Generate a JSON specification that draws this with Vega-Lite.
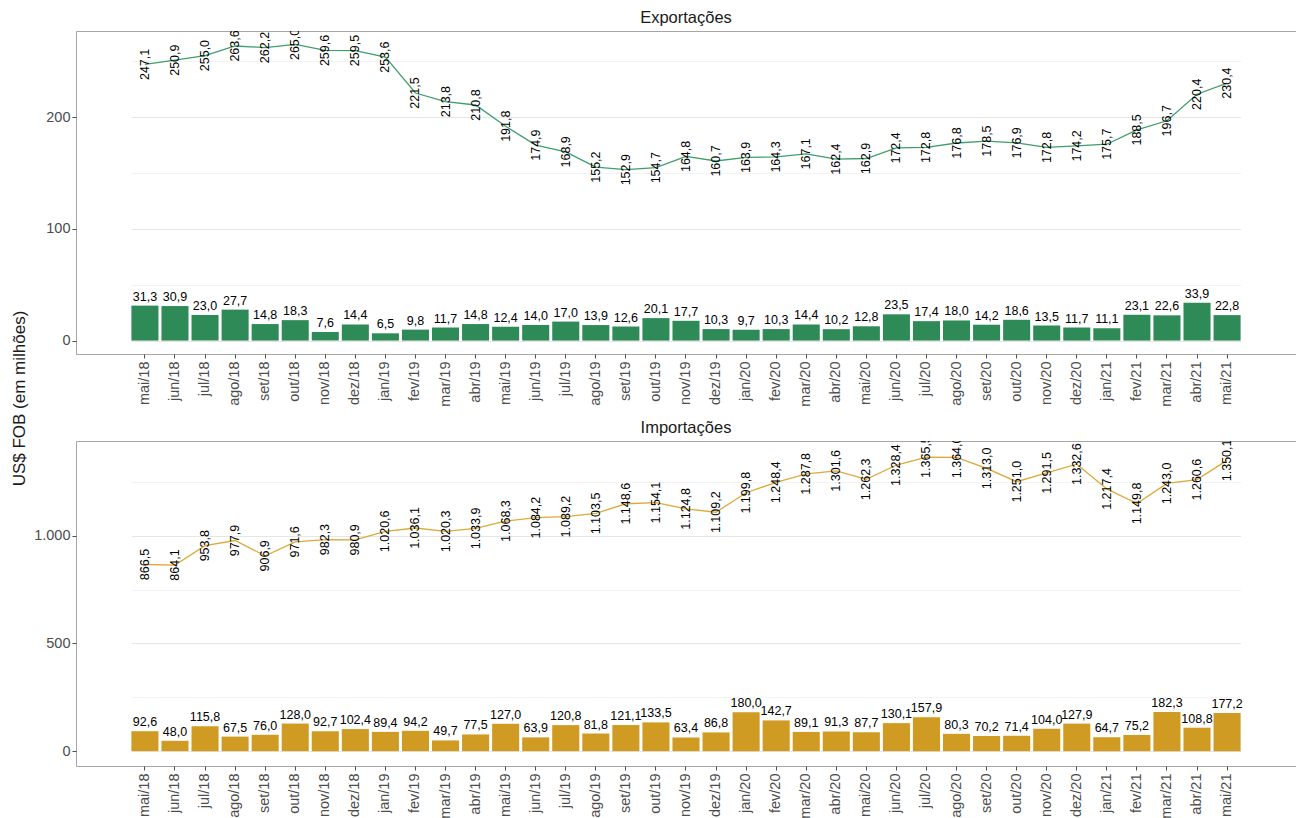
{
  "$schema": "https://vega.github.io/schema/vega-lite/v6.json",
  "padding": {"left": 9, "top": 9, "right": 0, "bottom": 0},
  "spacing": 87,
  "bounds": "flush",
  "config": {
    "locale": {"number": {"decimal": ",", "thousands": ".", "grouping": [3], "currency": ["R$", ""]}},
    "font": "Liberation Sans",
    "view": {"stroke": "#a6a6a6", "strokeWidth": 1},
    "axis": {"labelFont": "Liberation Sans", "labelColor": "#4d4d4d", "labelFontSize": 14.5, "tickColor": "#4d4d4d", "tickSize": 4, "domain": false, "titleFont": "Liberation Sans", "titleFontWeight": "normal", "titleColor": "#1a1a1a", "titleFontSize": 17},
    "title": {"fontSize": 16.5, "fontWeight": "normal", "color": "#1a1a1a", "font": "Liberation Sans", "offset": 5}
  },
  "data": {"values": [
    {"f":"E","m":"mai/18","v":31.3,"a":247.1},{"f":"E","m":"jun/18","v":30.9,"a":250.9},{"f":"E","m":"jul/18","v":23.0,"a":255.0},{"f":"E","m":"ago/18","v":27.7,"a":263.6},{"f":"E","m":"set/18","v":14.8,"a":262.2},{"f":"E","m":"out/18","v":18.3,"a":265.0},{"f":"E","m":"nov/18","v":7.6,"a":259.6},{"f":"E","m":"dez/18","v":14.4,"a":259.5},
    {"f":"E","m":"jan/19","v":6.5,"a":253.6},{"f":"E","m":"fev/19","v":9.8,"a":221.5},{"f":"E","m":"mar/19","v":11.7,"a":213.8},{"f":"E","m":"abr/19","v":14.8,"a":210.8},{"f":"E","m":"mai/19","v":12.4,"a":191.8},{"f":"E","m":"jun/19","v":14.0,"a":174.9},{"f":"E","m":"jul/19","v":17.0,"a":168.9},{"f":"E","m":"ago/19","v":13.9,"a":155.2},{"f":"E","m":"set/19","v":12.6,"a":152.9},{"f":"E","m":"out/19","v":20.1,"a":154.7},{"f":"E","m":"nov/19","v":17.7,"a":164.8},{"f":"E","m":"dez/19","v":10.3,"a":160.7},
    {"f":"E","m":"jan/20","v":9.7,"a":163.9},{"f":"E","m":"fev/20","v":10.3,"a":164.3},{"f":"E","m":"mar/20","v":14.4,"a":167.1},{"f":"E","m":"abr/20","v":10.2,"a":162.4},{"f":"E","m":"mai/20","v":12.8,"a":162.9},{"f":"E","m":"jun/20","v":23.5,"a":172.4},{"f":"E","m":"jul/20","v":17.4,"a":172.8},{"f":"E","m":"ago/20","v":18.0,"a":176.8},{"f":"E","m":"set/20","v":14.2,"a":178.5},{"f":"E","m":"out/20","v":18.6,"a":176.9},{"f":"E","m":"nov/20","v":13.5,"a":172.8},{"f":"E","m":"dez/20","v":11.7,"a":174.2},
    {"f":"E","m":"jan/21","v":11.1,"a":175.7},{"f":"E","m":"fev/21","v":23.1,"a":188.5},{"f":"E","m":"mar/21","v":22.6,"a":196.7},{"f":"E","m":"abr/21","v":33.9,"a":220.4},{"f":"E","m":"mai/21","v":22.8,"a":230.4},
    {"f":"I","m":"mai/18","v":92.6,"a":866.5},{"f":"I","m":"jun/18","v":48.0,"a":864.1},{"f":"I","m":"jul/18","v":115.8,"a":953.8},{"f":"I","m":"ago/18","v":67.5,"a":977.9},{"f":"I","m":"set/18","v":76.0,"a":906.9},{"f":"I","m":"out/18","v":128.0,"a":971.6},{"f":"I","m":"nov/18","v":92.7,"a":982.3},{"f":"I","m":"dez/18","v":102.4,"a":980.9},
    {"f":"I","m":"jan/19","v":89.4,"a":1020.6},{"f":"I","m":"fev/19","v":94.2,"a":1036.1},{"f":"I","m":"mar/19","v":49.7,"a":1020.3},{"f":"I","m":"abr/19","v":77.5,"a":1033.9},{"f":"I","m":"mai/19","v":127.0,"a":1068.3},{"f":"I","m":"jun/19","v":63.9,"a":1084.2},{"f":"I","m":"jul/19","v":120.8,"a":1089.2},{"f":"I","m":"ago/19","v":81.8,"a":1103.5},{"f":"I","m":"set/19","v":121.1,"a":1148.6},{"f":"I","m":"out/19","v":133.5,"a":1154.1},{"f":"I","m":"nov/19","v":63.4,"a":1124.8},{"f":"I","m":"dez/19","v":86.8,"a":1109.2},
    {"f":"I","m":"jan/20","v":180.0,"a":1199.8},{"f":"I","m":"fev/20","v":142.7,"a":1248.4},{"f":"I","m":"mar/20","v":89.1,"a":1287.8},{"f":"I","m":"abr/20","v":91.3,"a":1301.6},{"f":"I","m":"mai/20","v":87.7,"a":1262.3},{"f":"I","m":"jun/20","v":130.1,"a":1328.4},{"f":"I","m":"jul/20","v":157.9,"a":1365.5},{"f":"I","m":"ago/20","v":80.3,"a":1364.0},{"f":"I","m":"set/20","v":70.2,"a":1313.0},{"f":"I","m":"out/20","v":71.4,"a":1251.0},{"f":"I","m":"nov/20","v":104.0,"a":1291.5},{"f":"I","m":"dez/20","v":127.9,"a":1332.6},
    {"f":"I","m":"jan/21","v":64.7,"a":1217.4},{"f":"I","m":"fev/21","v":75.2,"a":1149.8},{"f":"I","m":"mar/21","v":182.3,"a":1243.0},{"f":"I","m":"abr/21","v":108.8,"a":1260.6},{"f":"I","m":"mai/21","v":177.2,"a":1350.1}
  ]},
  "vconcat": [
    {
      "title": "Exportações",
      "width": 1220,
      "height": 323,
      "transform": [{"filter": "datum.f === 'E'"}],
      "encoding": {
        "x": {"field": "m", "type": "ordinal", "sort": null, "title": null,
              "scale": {"range": [55.4, 1164.6], "paddingInner": 0.1, "paddingOuter": 0},
              "axis": {"labelAngle": -90, "grid": false, "labelPadding": 3}}
      },
      "layer": [
        {
          "mark": {"type": "bar", "color": "#2e8b57"},
          "encoding": {
            "y": {"field": "v", "type": "quantitative", "title": "US$ FOB (em milhões)",
                  "scale": {"domain": [-12, 277], "nice": false, "zero": false},
                  "axis": {"values": [0, 50, 100, 150, 200, 250],
                           "labelExpr": "datum.value % 100 === 0 ? datum.label : ''",
                           "tickOpacity": {"condition": {"test": "datum.value % 100 === 0", "value": 1}, "value": 0},
                           "gridColor": {"condition": {"test": "datum.value % 100 === 0", "value": "#e6e6e6"}, "value": "#f3f3f3"},
                           "titleX": -57, "titleY": 367, "titleBaseline": "middle", "titleAnchor": "middle"}},
            "y2": {"datum": 0}
          }
        },
        {
          "mark": {"type": "text", "baseline": "bottom", "dy": -2, "fontSize": 12.5, "color": "black"},
          "encoding": {
            "y": {"field": "v", "type": "quantitative", "title": "US$ FOB (em milhões)"},
            "text": {"field": "v", "type": "quantitative", "format": ",.1f"}
          }
        },
        {
          "mark": {"type": "line", "color": "#3f9e6b", "strokeWidth": 1.3},
          "encoding": {
            "y": {"field": "a", "type": "quantitative", "title": "US$ FOB (em milhões)"}
          }
        },
        {
          "mark": {"type": "text", "angle": 270, "align": "center", "baseline": "middle", "fontSize": 12.5, "color": "black", "clip": true},
          "encoding": {
            "y": {"field": "a", "type": "quantitative", "title": "US$ FOB (em milhões)"},
            "text": {"field": "a", "type": "quantitative", "format": ",.1f"}
          }
        }
      ]
    },
    {
      "title": "Importações",
      "width": 1220,
      "height": 325,
      "transform": [{"filter": "datum.f === 'I'"}],
      "encoding": {
        "x": {"field": "m", "type": "ordinal", "sort": null, "title": null,
              "scale": {"range": [55.4, 1164.6], "paddingInner": 0.1, "paddingOuter": 0},
              "axis": {"labelAngle": -90, "grid": false, "labelPadding": 3}}
      },
      "layer": [
        {
          "mark": {"type": "bar", "color": "#cf9b22"},
          "encoding": {
            "y": {"field": "v", "type": "quantitative", "title": null,
                  "scale": {"domain": [-69, 1440], "nice": false, "zero": false},
                  "axis": {"values": [0, 250, 500, 750, 1000, 1250], "format": ",d",
                           "labelExpr": "datum.value % 500 === 0 ? datum.label : ''",
                           "tickOpacity": {"condition": {"test": "datum.value % 500 === 0", "value": 1}, "value": 0},
                           "gridColor": {"condition": {"test": "datum.value % 500 === 0", "value": "#e6e6e6"}, "value": "#f3f3f3"}}},
            "y2": {"datum": 0}
          }
        },
        {
          "mark": {"type": "text", "baseline": "bottom", "dy": -2, "fontSize": 12.5, "color": "black"},
          "encoding": {
            "y": {"field": "v", "type": "quantitative", "title": null},
            "text": {"field": "v", "type": "quantitative", "format": ",.1f"}
          }
        },
        {
          "mark": {"type": "line", "color": "#dcaa38", "strokeWidth": 1.3},
          "encoding": {
            "y": {"field": "a", "type": "quantitative", "title": null}
          }
        },
        {
          "mark": {"type": "text", "angle": 270, "align": "center", "baseline": "middle", "fontSize": 12.5, "color": "black", "clip": true},
          "encoding": {
            "y": {"field": "a", "type": "quantitative", "title": null},
            "text": {"field": "a", "type": "quantitative", "format": ",.1f"}
          }
        }
      ]
    }
  ]
}
